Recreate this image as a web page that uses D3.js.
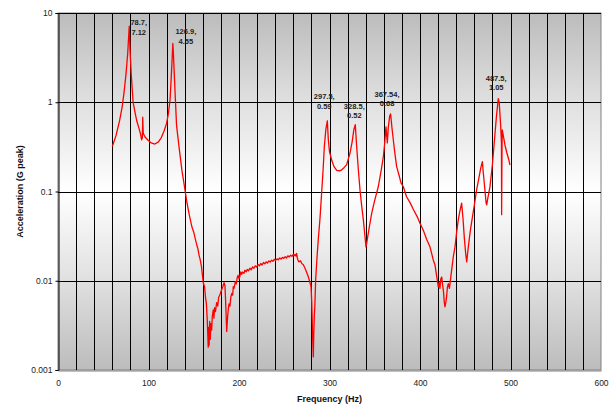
<!DOCTYPE html>
<html><head><meta charset="utf-8">
<script src="https://cdn.jsdelivr.net/npm/d3@7/dist/d3.min.js"></script>
<style>
html,body{margin:0;padding:0;background:#fff;}
svg{display:block;font-family:"Liberation Sans",Arial,sans-serif;}
</style>
</head><body>
<svg id="chart" width="610" height="405"></svg>
<script>
// ---- data ----
const freq = [60,64,68,71,73,75,77,78.7,79.5,81,83,85,87,89,91,92.4,93.2,93.6,94.2,96,99,103,107,111,114,117,120,122,123.8,125,126.2,126.9,127.6,128.3,129.5,131,134,137,140,142,145,148,150,151.5,153,154.5,156,157,158.5,160.5,162,163,164,165,165.5,166,166.5,167,167.6,168.2,169,169.8,170.5,171.5,172.3,173,174,175.3,176.5,177.5,179,180.5,182,183.5,184.5,185.5,186.4,187.3,188.2,189,190,191,192,193,193.7,194.5,196,197,198,199,200,201,202,203,204,205.5,206.5,208,209,210.5,212,213.5,215,216.5,218,219.5,221,222.5,224,225.5,227,228.5,230,231.5,233,234.5,236,237.5,239,240.5,242,243.5,245,246.5,248,249.5,251,252.5,254,255.5,257,258.5,260,261,262,263,263.7,264.5,265,266,268,269.5,271,274,276.6,278.5,279.6,280.3,281,281.6,282.1,282.6,283.2,283.8,284.7,286,287.6,289.5,291.4,293,294.3,296,297.6,298.7,300,302.4,305,308,311,313.5,316,319,322.7,325,327,328.5,330,331.8,333.7,335.5,337.4,339,340.3,341.3,342.2,344,346.6,350,353.9,357,359.5,361,362.4,363.9,365,366.5,367.5,369,370.5,372,374.2,377,379,381.6,385,389,393,397,400,404,407.4,411,413,414.7,416.6,418,419.5,420.3,421.2,422,423,424,425,426,426.8,427.6,428.4,429.3,430.3,431.3,432.5,434,436.8,438.7,440.5,442.3,444,446,447.5,449,450.5,451.6,453,455.2,457,460,462.6,465,467,468.9,470,471.5,473,473.7,475,477.3,480,482.9,484.5,486.5,487.5,488.3,489.2,490,490.2,490.6,490.9,492.5,493.9,496,498,499.4];
const accel = [0.32,0.42,0.62,0.9,1.3,2.0,3.5,7.12,4.0,2.0,1.0,0.78,0.62,0.53,0.45,0.38,0.40,0.68,0.45,0.41,0.38,0.35,0.34,0.36,0.40,0.47,0.58,0.75,1.06,1.8,3.2,4.55,3.4,2.3,1.2,0.55,0.3,0.17,0.11,0.08,0.055,0.04,0.035,0.03,0.026,0.023,0.019,0.0175,0.0145,0.0095,0.0085,0.0065,0.0055,0.0035,0.0025,0.0018,0.003,0.0019,0.0035,0.0022,0.0033,0.0028,0.004,0.0047,0.0038,0.005,0.0045,0.0057,0.0052,0.0065,0.007,0.0078,0.0085,0.0095,0.0088,0.005,0.0027,0.0038,0.0048,0.0055,0.0052,0.0066,0.0072,0.0069,0.0086,0.0082,0.0098,0.0092,0.0108,0.0115,0.0105,0.0112,0.0126,0.0118,0.0125,0.0121,0.0131,0.0126,0.0134,0.0129,0.0138,0.0133,0.0143,0.0138,0.0147,0.0142,0.0152,0.0147,0.0156,0.015,0.016,0.0155,0.0163,0.0158,0.0167,0.0162,0.017,0.0165,0.0174,0.0169,0.0176,0.0172,0.018,0.0175,0.0183,0.0178,0.0186,0.018,0.019,0.0185,0.0193,0.0188,0.0198,0.0191,0.0197,0.0189,0.0202,0.018,0.0172,0.0163,0.0167,0.0155,0.0152,0.013,0.0111,0.0095,0.0086,0.006,0.0033,0.002,0.0014,0.0025,0.004,0.0052,0.0102,0.017,0.029,0.05,0.1,0.18,0.32,0.5,0.62,0.38,0.28,0.225,0.19,0.172,0.17,0.175,0.185,0.2,0.27,0.36,0.5,0.56,0.32,0.18,0.104,0.07,0.048,0.033,0.024,0.027,0.031,0.04,0.057,0.08,0.113,0.17,0.245,0.35,0.53,0.35,0.53,0.7,0.74,0.52,0.38,0.28,0.19,0.15,0.125,0.113,0.088,0.075,0.062,0.052,0.044,0.036,0.029,0.024,0.02,0.017,0.015,0.012,0.0095,0.0085,0.0095,0.0082,0.0105,0.011,0.009,0.0075,0.0058,0.0051,0.0056,0.0065,0.0085,0.0093,0.0082,0.011,0.0186,0.024,0.035,0.048,0.06,0.074,0.05,0.03,0.02,0.0163,0.022,0.034,0.045,0.07,0.105,0.14,0.18,0.216,0.16,0.11,0.075,0.071,0.085,0.113,0.2,0.45,0.7,1.1,1.0,0.75,0.53,0.35,0.055,0.3,0.49,0.4,0.33,0.27,0.23,0.198];

const xTicks = [0,100,200,300,400,500,600];
const yTicks = [0.001,0.01,0.1,1,10];
const yTickLabels = ["0.001","0.01","0.1","1","10"];

const peakFreq = [78.7,126.9,297.5,328.5,367.54,487.5];
const peakVal = [7.12,4.55,0.59,0.52,0.68,1.05];
const peakText1 = ["78.7,","126.9,","297.5,","328.5,","367.54,","487.5,"];
const peakText2 = ["7.12","4.55","0.59","0.52","0.68","1.05"];
// label placement offsets (px) from the peak point
const labelDx = [9.5,13,-3,-1,-3.6,-3];
const labelDy = [-3.5,-12,-26,-21.6,-23,-22];

// ---- layout ----
const L = 58, R = 601, T = 13, B = 370;
const svg = d3.select("#chart");
const x = d3.scaleLinear().domain([0,600]).range([L,R]);
const y = d3.scaleLog().domain([0.001,10]).range([B,T]);

const defs = svg.append("defs");
const grad = defs.append("linearGradient").attr("id","bg").attr("x1",0).attr("y1",0).attr("x2",0).attr("y2",1);
[[0,"#bcbcbc"],[0.25,"#e0e0e0"],[0.5,"#ffffff"],[0.75,"#e0e0e0"],[1,"#bcbcbc"]].forEach(s=>{
  grad.append("stop").attr("offset",s[0]).attr("stop-color",s[1]);
});

svg.append("rect").attr("x",L).attr("y",T).attr("width",R-L).attr("height",B-T)
  .attr("fill","url(#bg)").attr("stroke","#808080").attr("stroke-width",1);

// vertical grid
const g = svg.append("g");
g.selectAll("line.v").data(d3.range(20,600,20)).join("line")
  .attr("x1",d=>Math.round(x(d))+0.5).attr("x2",d=>Math.round(x(d))+0.5)
  .attr("y1",T).attr("y2",B).attr("stroke","#000").attr("stroke-width",1);
// horizontal grid
g.selectAll("line.h").data([0.01,0.1,1,10]).join("line")
  .attr("x1",L).attr("x2",R).attr("y1",d=>Math.round(y(d))+0.5).attr("y2",d=>Math.round(y(d))+0.5)
  .attr("stroke","#000").attr("stroke-width",1);

// axes
const yAxis = d3.axisLeft(y).tickValues(yTicks).tickFormat((d,i)=>yTickLabels[i]).tickSize(3).tickPadding(3);
const ya = svg.append("g").attr("transform",`translate(${L+0.5},0)`).call(yAxis);
ya.select(".domain").attr("stroke","#000");
ya.selectAll(".tick line").attr("stroke","#000");
ya.selectAll("text").attr("font-size","8.5px").attr("fill","#222").attr("font-family","Liberation Sans, Arial, sans-serif");

const xAxis = d3.axisBottom(x).tickValues(xTicks).tickFormat(d3.format("d")).tickSize(0).tickPadding(9);
const xa = svg.append("g").attr("transform",`translate(0,${B+0.5})`).call(xAxis);
xa.select(".domain").attr("stroke","#808080");
xa.selectAll("text").attr("font-size","8.5px").attr("fill","#222").attr("font-family","Liberation Sans, Arial, sans-serif");

// line
const pts = freq.map((f,i)=>[f,accel[i]]);
svg.append("path").datum(pts)
  .attr("fill","none").attr("stroke","#ff0000").attr("stroke-width",1.3).attr("stroke-linejoin","round")
  .attr("d", d3.line().x(d=>x(d[0])).y(d=>y(d[1])));

// peak labels
const lab = svg.append("g").attr("font-size","7.5px").attr("font-weight","bold").attr("fill","#222").attr("text-anchor","middle");
peakFreq.forEach((f,i)=>{
  const cx = x(f)+labelDx[i], cy = y(peakVal[i])+labelDy[i];
  lab.append("text").attr("x",cx).attr("y",cy).attr("dy","0.35em").text(peakText1[i]);
  lab.append("text").attr("x",cx).attr("y",cy+9.5).attr("dy","0.35em").text(peakText2[i]);
});

// axis titles
svg.append("text").attr("x",(L+R)/2).attr("y",399).attr("dy","0.35em").attr("text-anchor","middle")
  .attr("font-size","9px").attr("font-weight","bold").attr("fill","#111").text("Frequency (Hz)");
svg.append("text").attr("transform",`translate(20,${(T+B)/2}) rotate(-90)`).attr("dy","0.35em").attr("text-anchor","middle")
  .attr("font-size","9px").attr("font-weight","bold").attr("fill","#111").text("Acceleration (G peak)");
</script>
</body></html>
